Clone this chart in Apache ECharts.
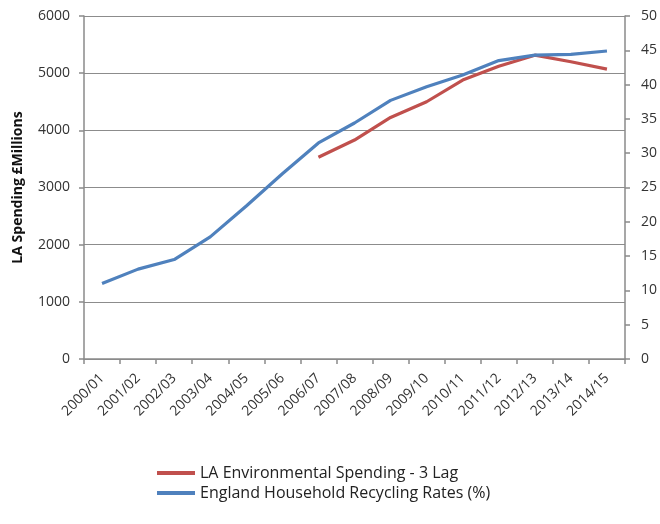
<!DOCTYPE html>
<html>
<head>
<meta charset="utf-8">
<script src="https://cdn.jsdelivr.net/npm/echarts@6/dist/echarts.min.js"></script>
<style>html,body{margin:0;padding:0;background:#fff}#c{width:660px;height:524px}</style>
</head>
<body>
<div id="c"></div>
<script>
var categories = ['2000/01','2001/02','2002/03','2003/04','2004/05','2005/06','2006/07','2007/08','2008/09','2009/10','2010/11','2011/12','2012/13','2013/14','2014/15'];
var spending = [null, null, null, null, null, null, 3530, 3830, 4225, 4500, 4880, 5120, 5315, 5200, 5070];
var recycling = [11.0, 13.1, 14.5, 17.8, 22.3, 27.0, 31.5, 34.4, 37.7, 39.7, 41.4, 43.5, 44.3, 44.4, 44.9];
var leftTicks = {min: 0, max: 6000, interval: 1000};
var rightTicks = {min: 0, max: 50, interval: 5};

var font = 'Open Sans';
var axisGrey = '#8a8a8a';
var chart = echarts.init(document.getElementById('c'), null, {renderer: 'canvas'});
chart.setOption({
  backgroundColor: '#fff',
  animation: false,
  textStyle: {fontFamily: font},
  grid: {left: 84, right: 35, top: 16, bottom: 165},
  legend: {
    orient: 'vertical', left: 157, top: 464, itemGap: 2, padding: 0,
    itemWidth: 38, itemHeight: 4, icon: 'rect',
    textStyle: {fontFamily: font, fontSize: 16, color: '#222', lineHeight: 18},
    data: ['LA Environmental Spending - 3 Lag', 'England Household Recycling Rates (%)']
  },
  xAxis: {
    type: 'category', data: categories, boundaryGap: true,
    axisLine: {lineStyle: {color: axisGrey, width: 1.5}},
    axisTick: {show: true, length: 5, lineStyle: {color: axisGrey, width: 1.5}},
    axisLabel: {rotate: 45, margin: 17, fontSize: 14, color: '#333', fontFamily: font, interval: 0}
  },
  yAxis: [{
    type: 'value', min: leftTicks.min, max: leftTicks.max, interval: leftTicks.interval,
    name: 'LA Spending £Millions', nameLocation: 'middle', nameGap: 59,
    nameTextStyle: {fontWeight: 'bold', fontSize: 14, color: '#111', fontFamily: font},
    axisLine: {show: true, lineStyle: {color: axisGrey, width: 1.5}},
    axisTick: {show: true, length: 5, lineStyle: {color: axisGrey, width: 1.5}},
    axisLabel: {margin: 14, fontSize: 14, color: '#333', fontFamily: font, formatter: function (v) { return String(v); }},
    splitLine: {show: true, lineStyle: {color: '#8c8c8c', width: 1.2}}
  }, {
    type: 'value', position: 'right', min: rightTicks.min, max: rightTicks.max, interval: rightTicks.interval,
    axisLine: {show: true, lineStyle: {color: axisGrey, width: 1.5}},
    axisTick: {show: true, length: 5, lineStyle: {color: axisGrey, width: 1.5}},
    axisLabel: {margin: 16, fontSize: 14, color: '#333', fontFamily: font, formatter: function (v) { return String(v); }},
    splitLine: {show: false}
  }],
  series: [{
    name: 'LA Environmental Spending - 3 Lag', type: 'line', yAxisIndex: 0,
    data: spending, showSymbol: false, symbol: 'none',
    lineStyle: {color: '#C0504D', width: 3.2}, itemStyle: {color: '#C0504D'}
  }, {
    name: 'England Household Recycling Rates (%)', type: 'line', yAxisIndex: 1,
    data: recycling, showSymbol: false, symbol: 'none',
    lineStyle: {color: '#4F81BD', width: 3.2}, itemStyle: {color: '#4F81BD'}
  }]
});
</script>
</body>
</html>
